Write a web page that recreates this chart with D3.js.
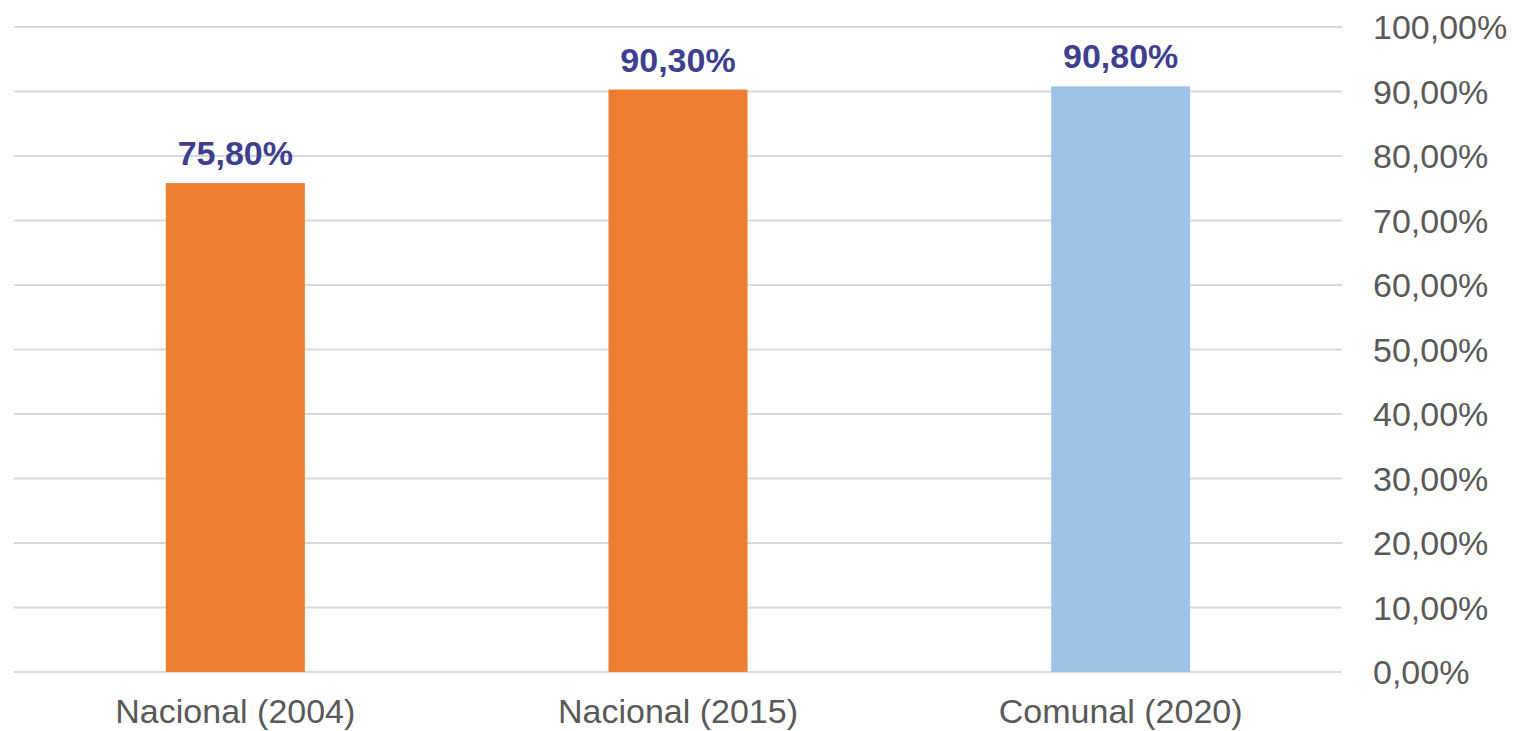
<!DOCTYPE html>
<html><head><meta charset="utf-8">
<script src="https://cdn.jsdelivr.net/npm/d3@7"></script>
<style>body{margin:0;background:#fff}svg{display:block}</style>
</head><body>
<svg id="c" width="1514" height="731"></svg>
<script>
const categories = ["Nacional (2004)", "Nacional (2015)", "Comunal (2020)"];
const values = [75.8, 90.3, 90.8];
const barColors = ["#ED7D31", "#ED7D31", "#9DC3E6"];
const yTicks = [0,10,20,30,40,50,60,70,80,90,100];

const svg = d3.select("#c");
const mLeft = 14, mRight = 1342, mTop = 27, mBottom = 672;
const x = d3.scaleBand().domain(categories).range([mLeft, mRight]).paddingInner(0.686).paddingOuter(0.343);
const y = d3.scaleLinear().domain([0,100]).range([mBottom, mTop]);
const fmt = v => d3.format(".2f")(v).replace(".", ",") + "%";

svg.append("g").selectAll("line").data(yTicks).join("line")
  .attr("x1", mLeft).attr("x2", mRight)
  .attr("y1", d => y(d)).attr("y2", d => y(d))
  .attr("stroke", "#d9d9d9").attr("stroke-width", 2);

const yAxis = d3.axisRight(y).tickValues(yTicks).tickSize(0).tickPadding(0).tickFormat(fmt);
svg.append("g").attr("transform", `translate(1373,0)`).call(yAxis)
  .call(g => g.select(".domain").remove())
  .selectAll("text").attr("font-family", "Liberation Sans, Arial, sans-serif")
  .attr("font-size", 34).attr("fill", "#595959").attr("text-anchor", "start").attr("dy", "0.35em").attr("x", 0);

svg.append("g").selectAll("rect").data(values).join("rect")
  .attr("x", (d,i) => x(categories[i])).attr("width", x.bandwidth())
  .attr("y", d => y(d)).attr("height", d => y(0) - y(d))
  .attr("fill", (d,i) => barColors[i]);

svg.append("g").selectAll("text").data(values).join("text")
  .attr("x", (d,i) => x(categories[i]) + x.bandwidth()/2)
  .attr("y", d => y(d) - 18)
  .attr("text-anchor", "middle").attr("font-family", "Liberation Sans, Arial, sans-serif")
  .attr("font-weight", "bold").attr("font-size", 34).attr("fill", "#3F3F8F")
  .text(d => fmt(d));

const xAxis = d3.axisBottom(x).tickSize(0).tickPadding(0);
svg.append("g").attr("transform", `translate(0,${mBottom})`).call(xAxis)
  .call(g => g.select(".domain").remove())
  .selectAll("text").attr("font-family", "Liberation Sans, Arial, sans-serif")
  .attr("font-size", 34).attr("fill", "#595959").attr("dy", null).attr("y", 51);
</script>
</body></html>
